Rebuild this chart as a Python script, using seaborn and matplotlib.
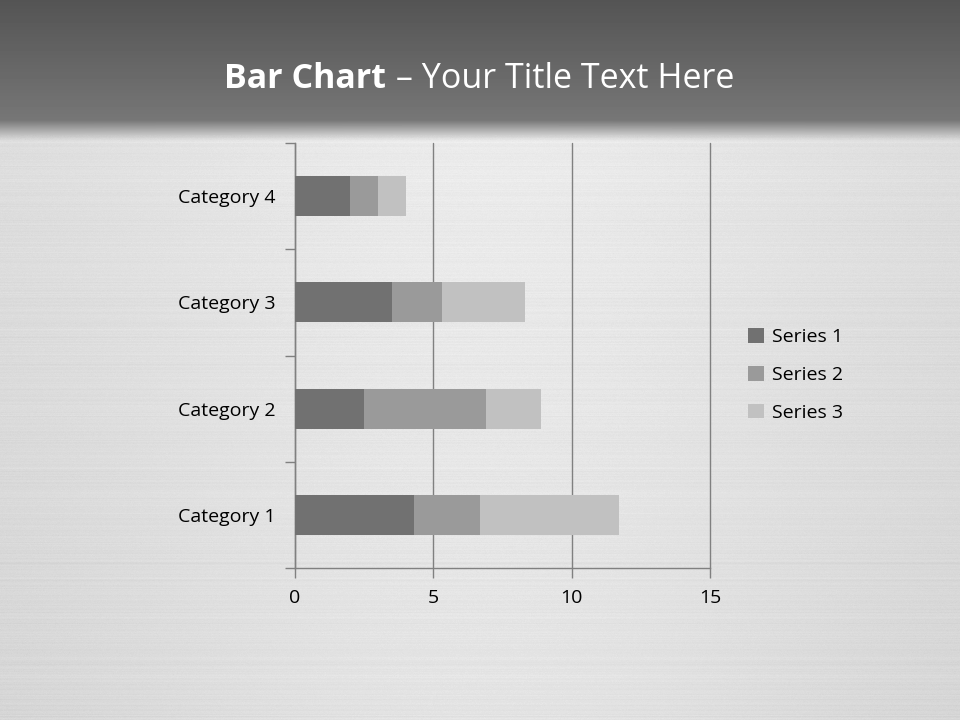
import numpy as np
import pandas as pd
import matplotlib.pyplot as plt
from matplotlib.patches import Patch
import seaborn as sns

# Chart data
categories = ["Category 1", "Category 2", "Category 3", "Category 4"]
series_names = ["Series 1", "Series 2", "Series 3"]
series1 = [4.3, 2.5, 3.5, 2.0]
series2 = [2.4, 4.4, 1.8, 1.0]
series3 = [5.0, 2.0, 3.0, 1.0]
x_ticks = [0, 5, 10, 15]

colors = ["#717171", "#9a9a9a", "#c1c1c1"]

sns.set_theme(style="white")
plt.rcParams["font.family"] = ["Open Sans", "DejaVu Sans"]

fig = plt.figure(figsize=(9.6, 7.2), dpi=100)

# Background: dark header band over brushed light metal
h, w = 720, 960
yy = np.arange(h)[:, None]
xx = np.arange(w)[None, :]
header = 0.33 + 0.14 * (yy / 125.0)
body = 0.85 + 0.07 * np.exp(-((xx - 480) / 400.0) ** 2) - 0.03 * (yy - 140) / 580.0
bg = np.where(yy < 125, header, body)
blend = np.clip((yy - 120) / 20.0, 0, 1)
bg = np.where((yy >= 120) & (yy < 140), (1 - blend) * 0.47 + blend * body, bg)
rng = np.random.default_rng(3)
streaks = rng.normal(0, 0.006, (h, 1)) + rng.normal(0, 0.004, (h, w))
bg = np.where(yy >= 135, bg + streaks, bg)
bg = np.clip(bg, 0, 1)
bg_ax = fig.add_axes([0, 0, 1, 1])
bg_ax.imshow(bg, cmap="gray", vmin=0, vmax=1, aspect="auto", interpolation="bilinear")
bg_ax.axis("off")

# Title
fig.text(386 / 960, 1 - 88 / 720, "Bar Chart", ha="right", va="baseline",
         fontsize=24.5, fontweight="bold", color="white")
fig.text(387 / 960, 1 - 88 / 720, " \u2013 Your Title Text Here", ha="left", va="baseline",
         fontsize=24.5, color="white")

# Chart
df = pd.DataFrame({
    "category": categories,
    "s1": series1,
    "s2": series2,
    "s3": series3,
})
df["c1"] = df["s1"]
df["c2"] = df["s1"] + df["s2"]
df["c3"] = df["s1"] + df["s2"] + df["s3"]
order = categories[::-1]

ax = fig.add_axes([295 / 960, 1 - 568 / 720, 415 / 960, 425 / 720])
ax.patch.set_alpha(0)
for col, color in zip(["c3", "c2", "c1"], colors[::-1]):
    sns.barplot(data=df, x=col, y="category", order=order, orient="h",
                color=color, saturation=1, width=0.375, linewidth=0,
                edgecolor="none", ax=ax, zorder=3)

ax.set_xlim(0, 15)
ax.set_ylim(3.5, -0.5)
ax.set_xticks(x_ticks)
ax.set_xticklabels([str(t) for t in x_ticks])
ax.xaxis.grid(True, color="#808080", linewidth=1, zorder=0)
for gl in ax.get_xgridlines():
    gl.set_clip_on(False)
ax.set_axisbelow(True)
ax.set_xlabel("")
ax.set_ylabel("")
for side in ["top", "right"]:
    ax.spines[side].set_visible(False)
for side in ["left", "bottom"]:
    ax.spines[side].set_color("#808080")
    ax.spines[side].set_linewidth(1)

ax.set_yticks([0, 1, 2, 3])
ax.set_yticklabels(order)
ax.tick_params(axis="y", length=0, pad=14, labelsize=14, labelcolor="black")
ax.set_yticks([-0.5, 0.5, 1.5, 2.5, 3.5], minor=True)
ax.tick_params(axis="y", which="minor", length=7, color="#808080", width=1, direction="out", left=True)
ax.tick_params(axis="x", length=7, color="#808080", width=1, direction="out", bottom=True,
               labelsize=14, labelcolor="black", pad=8)

handles = [Patch(facecolor=c, edgecolor="none", label=n) for c, n in zip(colors, series_names)]
leg = fig.legend(handles=handles, loc="center left", bbox_to_anchor=(748 / 960, 1 - 375 / 720),
                 frameon=False, fontsize=14, handlelength=0.8, handleheight=0.8,
                 handletextpad=0.45, labelspacing=1.0, borderaxespad=0, borderpad=0)
for t in leg.get_texts():
    t.set_color("black")

fig.savefig("out.png", dpi=100)
